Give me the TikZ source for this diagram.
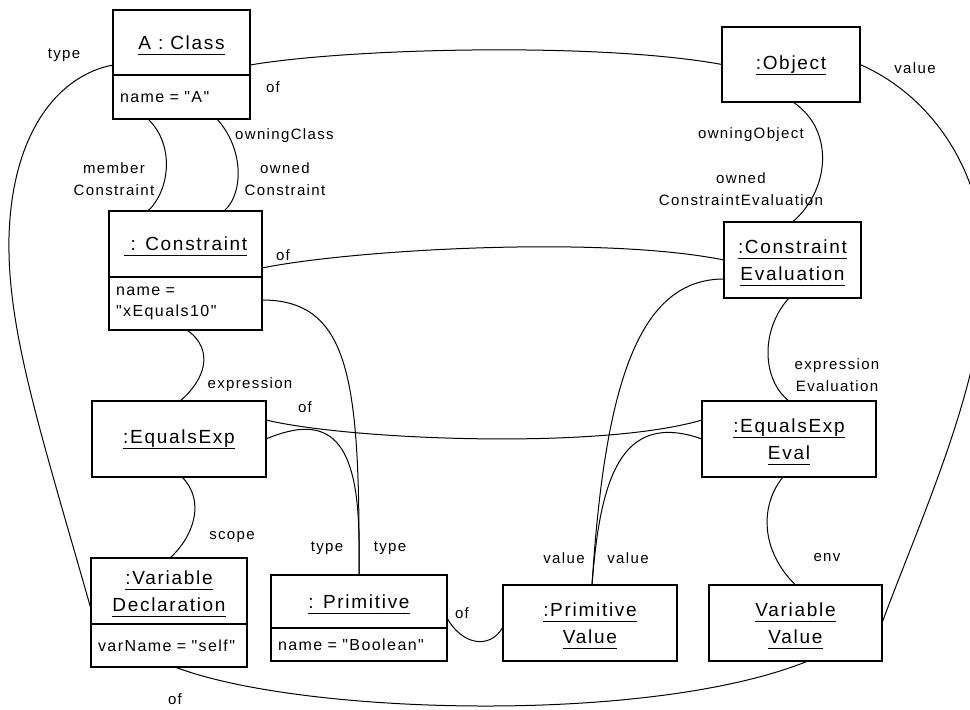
\documentclass[tikz,border=0pt]{standalone}
\usepackage{fontspec}
\setmainfont{Liberation Sans}[LetterSpace=9, Ligatures=TeXOff]
\usetikzlibrary{calc}
\newcommand\uln[1]{\setbox0\hbox{#1}\rlap{\smash{\raisebox{-5.5pt}{\rule{\wd0}{1.1pt}}}}\box0}
\newcommand\ttlfont{\fontsize{19}{27}\selectfont}
\newcommand\lblfont{\fontsize{15}{22}\selectfont}
\newcommand\attfont{\fontsize{16}{21}\selectfont}
\begin{document}
\begin{tikzpicture}[x=1pt,y=-1pt,
  objbox/.style={draw, line width=2pt, outer sep=0pt, inner sep=0pt, align=center, font=\ttlfont},
  attbox/.style={draw, line width=2pt, outer sep=0pt, inner xsep=7pt, inner ysep=0pt, align=left, font=\attfont},
  conn/.style={line width=1pt},
  lbl/.style={inner sep=0pt, align=center, font=\lblfont}]
\fill[white] (0,0) rectangle (970,710);
\useasboundingbox (0,0) rectangle (970,710);

% object boxes
\node[objbox, minimum width=137pt, minimum height=65pt] (A) at (181.5,42.5) {\uln{A : Class}};
\node[attbox, minimum height=44pt, text width=123pt, anchor=north] (Aa) at (A.south) {name = "A"};
\node[objbox, minimum width=138pt, minimum height=75pt] (Obj) at (791,64.5) {\uln{:Object}};
\node[objbox, minimum width=153pt, minimum height=66pt] (Con) at (185.5,244) {\uln{\ : Constraint}};
\node[attbox, minimum height=53pt, text width=139pt, anchor=north] (Cona) at (Con.south) {name =\\"xEquals10"};
\node[objbox, minimum width=137pt, minimum height=76pt] (CE) at (792.5,260) {\uln{:Constraint}\\\uln{Evaluation}};
\node[objbox, minimum width=174pt, minimum height=76pt] (EE) at (179,439) {\uln{:EqualsExp}};
\node[objbox, minimum width=174pt, minimum height=76pt] (EEE) at (789,439) {\uln{:EqualsExp}\\\uln{Eval}};
\node[objbox, minimum width=156pt, minimum height=66pt] (VD) at (169,591) {\uln{:Variable}\\\uln{Declaration}};
\node[attbox, minimum height=43pt, text width=142pt, anchor=north] (VDa) at (VD.south) {varName = "self"};
\node[objbox, minimum width=176pt, minimum height=53pt] (Pr) at (359,601.5) {\uln{: Primitive}};
\node[attbox, minimum height=33pt, text width=162pt, anchor=north] (Pra) at (Pr.south) {name = "Boolean"};
\node[objbox, minimum width=174pt, minimum height=76pt] (PV) at (590,623) {\uln{:Primitive}\\\uln{Value}};
\node[objbox, minimum width=173pt, minimum height=76pt] (VV) at (795.5,623) {\uln{Variable}\\\uln{Value}};

% connectors
\draw[conn] ($(A.west)+(0,22.5)$) .. controls (60,75) and (12,130) .. (9,237) .. controls (7,330) and (40,430) .. ($(VD.west)+(0,18)$);
\draw[conn] ($(A.east)+(0,22.5)$) .. controls (350,48) and (600,42) .. (Obj.west);
\draw[conn] ($(Aa.south)+(-33.5,0)$) .. controls (175,145) and (170,190) .. ($(Con.north)+(-37.5,0)$);
\draw[conn] ($(Aa.south)+(35.5,0)$) .. controls (245,150) and (243,195) .. ($(Con.north)+(38.5,0)$);
\draw[conn] ($(Obj.south)+(2,0)$) .. controls (835,130) and (830,190) .. (CE.north);
\draw[conn] (Obj.east) .. controls (930,95) and (985,170) .. (985,270) .. controls (985,380) and (920,520) .. (VV.east);
\draw[conn] ($(Con.east)+(0,24)$) .. controls (350,250) and (600,235) .. (CE.west);
\draw[conn] ($(Cona.east)+(0,-3.5)$) .. controls (350,300) and (360,380) .. (Pr.north);
\draw[conn] ($(Cona.south)+(1.5,0)$) .. controls (215,350) and (205,380) .. ($(EE.north)+(1,0)$);
\draw[conn] ($(EE.east)+(0,-19)$) .. controls (350,440) and (600,450) .. ($(EEE.west)+(0,-19)$);
\draw[conn] (EE.east) .. controls (330,412) and (358,440) .. (359,540) -- (Pr.north);
\draw[conn] ($(CE.west)+(0,19)$) .. controls (640,279) and (605,380) .. ($(PV.north)+(2,0)$);
\draw[conn] (EEE.west) .. controls (620,410) and (600,480) .. ($(PV.north)+(2,0)$);
\draw[conn] ($(CE.south)+(-3.5,0)$) .. controls (760,330) and (762,380) .. (EEE.north);
\draw[conn] ($(EE.south)+(3,0)$) .. controls (205,500) and (195,535) .. ($(VD.north)+(1,0)$);
\draw[conn] ($(EEE.south)+(-6,0)$) .. controls (760,505) and (760,550) .. (VV.north);
\draw[conn] ($(Pr.east)+(0,16.5)$) .. controls (462,645) and (490,650) .. ($(PV.west)+(0,4)$);
\draw[conn] ($(VDa.south)+(6,0)$) .. controls (300,715) and (650,725) .. ($(VV.south)+(12.5,0)$);

% labels
\node[lbl] (ltype) at (64,55) {type};
\node[lbl] (lof1) at (273,87) {of};
\node[lbl] (lmem) at (114,179) {member\\Constraint};
\node[lbl, anchor=west] (lowc) at (235,136) {owningClass};
\node[lbl] (lownc) at (285,179) {owned\\Constraint};
\node[lbl] (lowo) at (751,135) {owningObject};
\node[lbl] (lownce) at (741,189) {owned\\ConstraintEvaluation};
\node[lbl] (lval) at (915,68) {value};
\node[lbl] (lof2) at (283,255) {of};
\node[lbl] (lexp) at (250,385) {expression};
\node[lbl] (lof3) at (305,407) {of};
\node[lbl] (lexe) at (837,375) {expression\\Evaluation};
\node[lbl] (lscope) at (232,537) {scope};
\node[lbl] (lt1) at (327,548) {type};
\node[lbl] (lt2) at (390,548) {type};
\node[lbl] (lof4) at (462,613) {of};
\node[lbl] (lof5) at (175,699) {of};
\node[lbl] (lv1) at (564,558) {value};
\node[lbl] (lv2) at (628,558) {value};
\node[lbl] (lenv) at (827,558) {env};
\end{tikzpicture}
\end{document}
